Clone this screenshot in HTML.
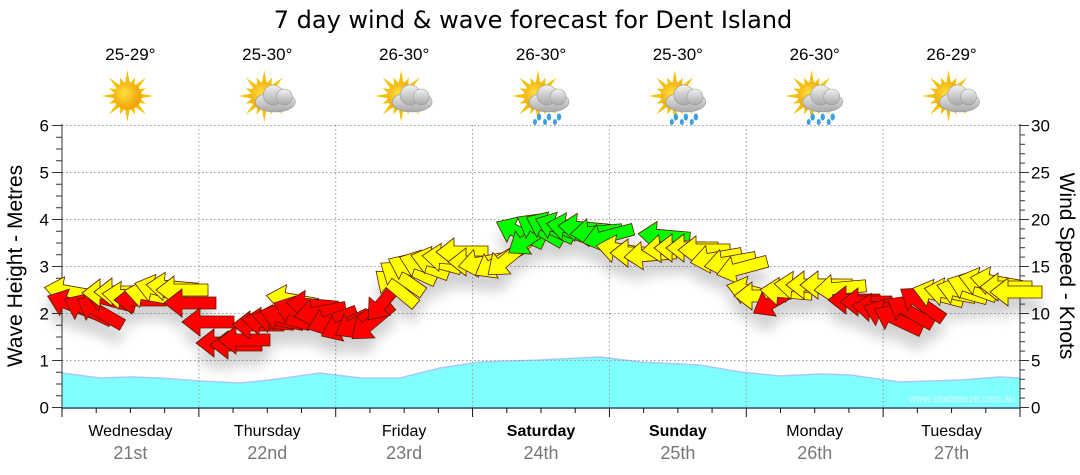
<!DOCTYPE html>
<html><head><meta charset="utf-8"><style>
html,body{margin:0;padding:0;background:#fff;}
svg{display:block;font-family:"Liberation Sans",sans-serif;}
</style></head><body>
<svg id="s" width="1080" height="475" viewBox="0 0 1080 475" xmlns="http://www.w3.org/2000/svg">
<defs>
<filter id="sh" x="-50%" y="-50%" width="200%" height="250%"><feGaussianBlur in="SourceAlpha" stdDeviation="6"/><feOffset dy="14"/><feComponentTransfer><feFuncA type="linear" slope="0.18"/></feComponentTransfer><feMerge><feMergeNode/><feMergeNode in="SourceGraphic"/></feMerge></filter>
<radialGradient id="sun" cx="0.4" cy="0.4" r="0.6"><stop offset="0" stop-color="#ffe040"/><stop offset="1" stop-color="#f0a000"/></radialGradient>
<linearGradient id="cl" x1="0" y1="0" x2="0" y2="1"><stop offset="0" stop-color="#f2f2f2"/><stop offset="1" stop-color="#a8a8a8"/></linearGradient>
</defs>
<text x="533" y="28" font-size="24" text-anchor="middle" fill="#000" style="font-family:'DejaVu Sans',sans-serif">7 day wind &amp; wave forecast for Dent Island</text>
<g id="g"></g>
</svg>
<script>
const g=document.getElementById('g');let h='';
const X0=62,X1=1020,DW=(X1-X0)/7,Y0=407.5,PM=47;
const wv=[[62,373],[100,378],[130,377],[160,378],[200,381],[240,383],[270,380],[320,373],[360,378],[400,378],[440,368],[480,362],[540,360],[600,357],[640,362],[700,365],[740,372],[780,376],[820,374],[850,375],[900,382],[960,380],[1000,377],[1020,378]];
let p='M62,407 '+wv.map(a=>'L'+a[0]+','+a[1]).join(' ')+' L1020,407 Z';
h+=`<path d="${p}" fill="#80ffff"/>`;
h+=`<path d="M${wv.map(a=>a.join(',')).join(' L')}" fill="none" stroke="#a8c8ff" stroke-width="1.5"/>`;
for(let i=1;i<=6;i++){const y=Y0-i*PM;h+=`<line x1="62" x2="1020" y1="${y}" y2="${y}" stroke="#999" stroke-dasharray="1.5,2.5"/>`;}
for(let d=1;d<7;d++){const x=X0+d*DW;h+=`<line x1="${x}" x2="${x}" y1="125" y2="407" stroke="#999" stroke-dasharray="1.5,2.5"/>`;}
h+=`<line x1="62" x2="62" y1="124" y2="408" stroke="#333"/><line x1="1020" x2="1020" y1="124" y2="408" stroke="#333"/><line x1="62" x2="1020" y1="408" y2="408" stroke="#1a4a70" stroke-width="1.5"/>`;
for(let i=0;i<=24;i++){const y=Y0-i*PM/4;h+=`<line x1="${i%4?56:52}" x2="62" y1="${y}" y2="${y}" stroke="#333"/>`;}
for(let i=0;i<=6;i++){h+=`<text x="49" y="${Y0-i*PM+6}" font-size="17" text-anchor="end">${i}</text>`;}
for(let i=0;i<=30;i++){const y=Y0-i*PM/5;h+=`<line x1="1020" x2="${i%5?1025:1029}" y1="${y}" y2="${y}" stroke="#333"/>`;}
for(let i=0;i<=6;i++){h+=`<text x="1031" y="${Y0-i*PM+6}" font-size="17">${i*5}</text>`;}
for(let i=0;i<=28;i++){const x=X0+i*DW/4;h+=`<line x1="${x}" x2="${x}" y1="408" y2="${i%4?413:417}" stroke="#111"/>`;}
h+=`<text transform="translate(22,266) rotate(-90)" font-size="21" text-anchor="middle">Wave Height - Metres</text>`;
h+=`<text transform="translate(1060,266) rotate(90)" font-size="21" text-anchor="middle">Wind Speed - Knots</text>`;
h+=`<text x="1015" y="402" font-size="10" fill="#d8f8ff" text-anchor="end">www.seabreeze.com.au</text>`;
const days=['Wednesday','Thursday','Friday','Saturday','Sunday','Monday','Tuesday'],dt=['21st','22nd','23rd','24th','25th','26th','27th'],tp=['25-29°','25-30°','26-30°','26-30°','25-30°','26-30°','26-29°'],ic=[0,1,1,2,2,2,1];
for(let d=0;d<7;d++){const x=X0+(d+.5)*DW;const b=(d==3||d==4)?'bold':'normal';
h+=`<text x="${x}" y="436" font-size="16" font-weight="${b}" text-anchor="middle">${days[d]}</text><text x="${x}" y="459" font-size="18" fill="#777" text-anchor="middle">${dt[d]}</text>`;
h+=`<text x="${x}" y="60" font-size="17" text-anchor="middle">${tp[d]}</text>`;
const cx=x-3,cy=96;let rays='';for(let k=0;k<16;k++){const a=k*Math.PI/8,l=k%2?20:26;rays+=`<polygon points="${cx+Math.cos(a)*l},${cy+Math.sin(a)*l} ${cx+Math.cos(a+.18)*13},${cy+Math.sin(a+.18)*13} ${cx+Math.cos(a-.18)*13},${cy+Math.sin(a-.18)*13}" fill="#f5c000"/>`;}
h+=rays+`<circle cx="${cx}" cy="${cy}" r="14" fill="url(#sun)"/>`;
if(ic[d]>0){h+=`<g fill="url(#cl)" stroke="#999" stroke-width=".6"><ellipse cx="${x+8}" cy="${cy+6}" rx="20" ry="10"/><circle cx="${x+6}" cy="${cy-1}" r="10"/><circle cx="${x+17}" cy="${cy+1}" r="8"/></g>`;}
if(ic[d]>1){for(const o of [-2,8,18])h+=`<ellipse cx="${x+o}" cy="${cy+21}" rx="2.2" ry="3.5" fill="#3aa0e0"/><ellipse cx="${x+o-4}" cy="${cy+26}" rx="2" ry="3" fill="#3aa0e0"/>`;}
}
const C={r:'#ff0000',y:'#ffff00',g:'#00ff00'};
const A=[[70,292,'y',10],[72,305,'r',20],[88,310,'r',25],[100,312,'r',30],[110,300,'r',15],[108,293,'y',0],[120,292,'y',0],[128,296,'y',5],[140,300,'r',0],[150,295,'y',10],[160,290,'y',15],[172,287,'y',5],[182,290,'y',0],[190,303,'r',0],[208,322,'r',0],[222,343,'r',0],[236,345,'r',0],[244,340,'r',0],[258,325,'r',0],[268,322,'r',5],[278,320,'r',10],[285,318,'r',15],[292,300,'y',10],[298,312,'r',20],[312,305,'r',5],[320,312,'r',-10],[332,320,'r',-20],[345,325,'r',-25],[358,322,'r',-30],[372,322,'r',-40],[385,300,'r',-50],[396,288,'y',40],[402,278,'y',35],[412,270,'y',25],[424,266,'y',20],[436,262,'y',15],[448,258,'y',5],[462,252,'y',0],[474,262,'y',0],[484,262,'y',-10],[498,262,'y',-30],[508,258,'y',-40],[520,233,'g',25],[530,238,'g',-35],[540,230,'g',30],[550,228,'g',25],[560,228,'g',20],[572,228,'g',10],[584,228,'g',5],[596,232,'g',-5],[608,236,'g',-15],[622,250,'y',10],[636,253,'y',0],[650,255,'y',-5],[664,236,'g',5],[668,248,'y',-5],[680,248,'y',0],[692,248,'y',0],[704,250,'y',0],[716,258,'y',-10],[730,262,'y',-10],[742,268,'y',-15],[752,292,'y',15],[760,296,'y',0],[776,300,'r',-30],[786,292,'y',5],[800,286,'y',5],[812,285,'y',0],[826,285,'y',0],[840,288,'y',-5],[854,300,'r',0],[866,302,'r',0],[878,308,'r',5],[888,315,'r',20],[898,320,'r',25],[910,312,'r',30],[922,304,'r',35],[938,295,'y',15],[950,293,'y',10],[962,292,'y',15],[972,288,'y',20],[984,283,'y',15],[996,282,'y',10],[1006,287,'y',0],[1016,292,'y',0]];
h+='<g filter="url(#sh)">';
for(const a of A){h+=`<polygon transform="translate(${a[0]},${a[1]}) rotate(${a[3]})" points="-26,0 -8,-14 -8,-6 26,-6 26,6 -8,6 -8,14" fill="${C[a[2]]}" stroke="#5a1a00" stroke-width="0.8" stroke-linejoin="miter"/>`;}
h+='</g>';
g.innerHTML=h;
</script>
</body></html>
